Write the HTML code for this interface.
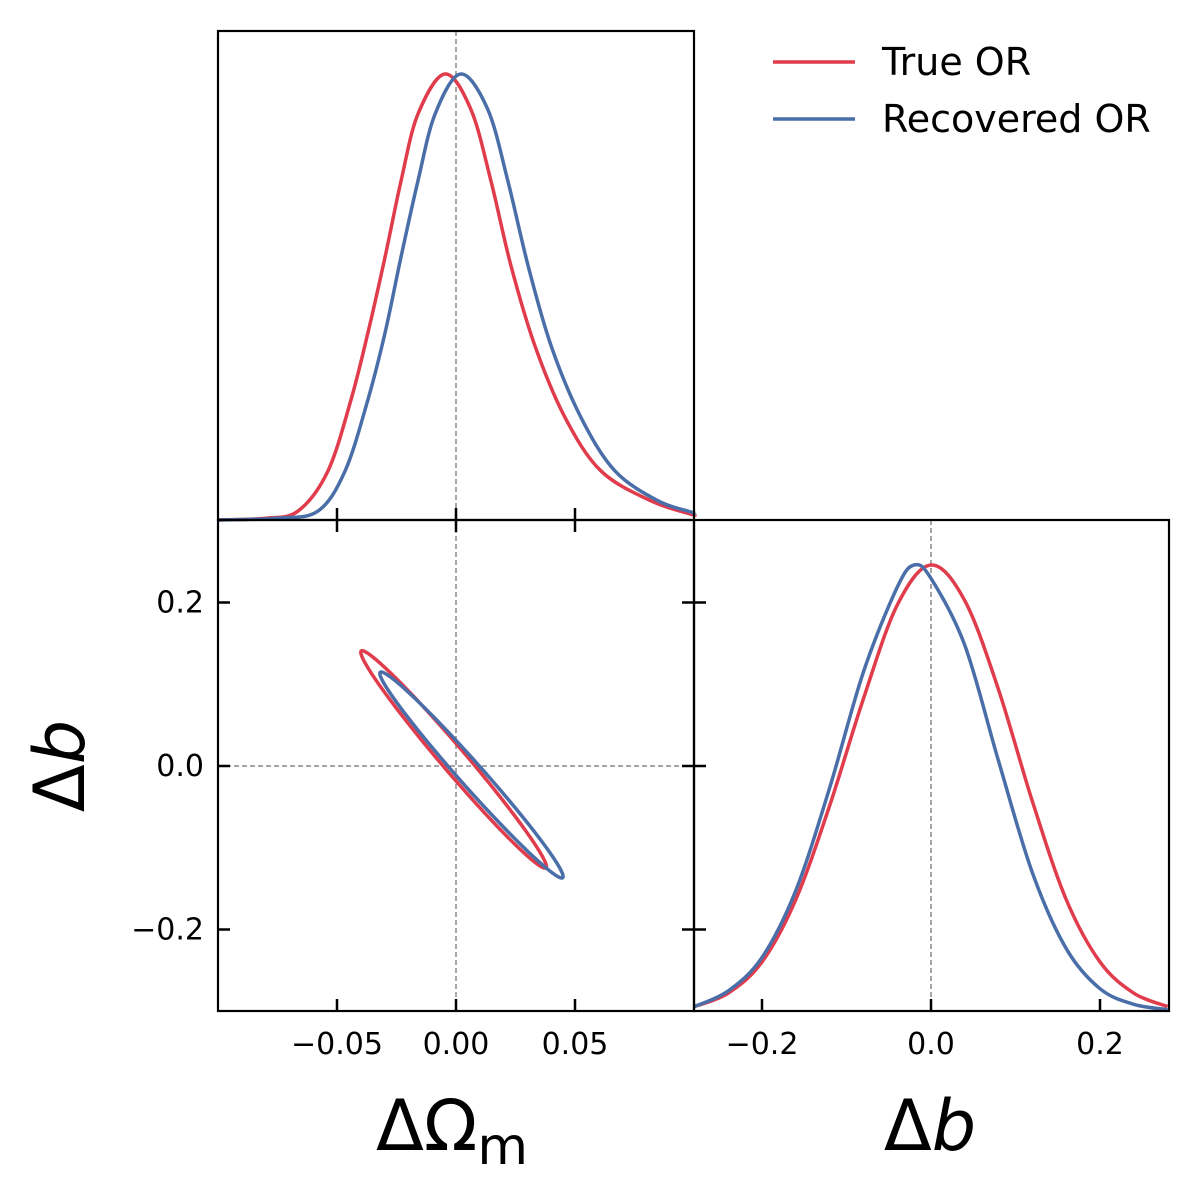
<!DOCTYPE html>
<html><head><meta charset="utf-8"><style>
body{margin:0;background:#fff;}
svg{display:block;font-family:"DejaVu Sans","Liberation Sans",sans-serif;}
</style></head><body>
<svg id="c" width="1200" height="1195"></svg>
<script>
// ---- data ----
const omegaRedX=[-0.1,-0.08,-0.0664,-0.0538,-0.0441,-0.037,-0.0298,-0.0231,-0.016,-0.0046,0.0063,0.0147,0.0231,0.0332,0.0458,0.0609,0.0819,0.0987,0.1];
const omegaRedY=[0,0.004,0.02,0.11,0.27,0.42,0.59,0.76,0.91,1.0,0.92,0.76,0.57,0.39,0.23,0.11,0.043,0.013,0.012];
const omegaBlueX=[-0.1,-0.075,-0.058,-0.0466,-0.037,-0.0298,-0.0231,-0.016,-0.0088,0.002,0.0134,0.0218,0.0303,0.040,0.0525,0.0668,0.0849,0.0987,0.1];
const omegaBlueY=[0,0.004,0.02,0.11,0.27,0.42,0.59,0.76,0.91,1.0,0.92,0.76,0.57,0.39,0.23,0.11,0.043,0.018,0.016];
const bRedX=[-0.28,-0.24,-0.2,-0.16,-0.12,-0.08,-0.04,0,0.04,0.08,0.12,0.16,0.2,0.24,0.28];
const bRedY=[0.01,0.04,0.11,0.25,0.46,0.7,0.91,1.0,0.92,0.72,0.47,0.25,0.11,0.04,0.01];
const bBlueX=[-0.28,-0.24,-0.2,-0.16,-0.12,-0.08,-0.04,-0.02,0,0.04,0.08,0.12,0.16,0.2,0.24,0.28];
const bBlueY=[0.01,0.045,0.12,0.27,0.5,0.76,0.95,1.0,0.97,0.82,0.56,0.31,0.14,0.05,0.015,0.003];
// ellipse: [centerOmega, centerB, halfExtentOmega, halfExtentB, correlation]
const ellipseRed=[-0.001,0.008,0.039,0.133,-0.985];
const ellipseBlue=[0.0065,-0.011,0.0385,0.126,-0.985];
const omegaTicks=[-0.05,0,0.05];
const omegaTickLabels=["\u22120.05","0.00","0.05"];
const bTicks=[-0.2,0,0.2];
const bTickLabels=["\u22120.2","0.0","0.2"];
// ---- axes ----
const RED="#e03c4c",BLUE="#4a6fa8";
const P1={x0:218,x1:694,y0:31,y1:520},P2={x0:218,x1:694,y0:520,y1:1011},P3={x0:694,x1:1169,y0:520,y1:1011};
const sxO=v=>456+v*2380;
const syB=v=>766-v*817.5;
const sxB=v=>931+v*845;
const syD1=v=>520-v*446;
const syD3=v=>1011-v*446;
const svg=document.getElementById('c');
const NS="http://www.w3.org/2000/svg";
function mk(t,a,p){const e=document.createElementNS(NS,t);for(const k in a)e.setAttribute(k,a[k]);(p||svg).appendChild(e);return e;}
function smooth(pts){let d="M"+pts[0][0]+","+pts[0][1];for(let i=0;i<pts.length-1;i++){const p0=pts[Math.max(0,i-1)],p1=pts[i],p2=pts[i+1],p3=pts[Math.min(pts.length-1,i+2)];
d+=" C"+(p1[0]+(p2[0]-p0[0])/6)+","+(p1[1]+(p2[1]-p0[1])/6)+" "+(p2[0]-(p3[0]-p1[0])/6)+","+(p2[1]-(p3[1]-p1[1])/6)+" "+p2[0]+","+p2[1];}return d;}
let e;
e=mk('line',{x1:456,y1:31,x2:456,y2:520,stroke:"#888","stroke-width":1.5,"stroke-dasharray":"5,3"});

e=mk('line',{x1:456,y1:520,x2:456,y2:1011,stroke:"#888","stroke-width":1.5,"stroke-dasharray":"5,3"});

e=mk('line',{x1:218,y1:766,x2:694,y2:766,stroke:"#888","stroke-width":1.5,"stroke-dasharray":"5,3"});

e=mk('line',{x1:931,y1:520,x2:931,y2:1011,stroke:"#888","stroke-width":1.5,"stroke-dasharray":"5,3"});

function curve(xs,ys,sx,sy,col,name){const p=xs.map((x,i)=>[sx(x),sy(ys[i])]);const c=mk('path',{d:smooth(p),fill:"none",stroke:col,"stroke-width":3.5});
}
curve(omegaRedX,omegaRedY,sxO,syD1,RED,'omega-true-curve');
curve(omegaBlueX,omegaBlueY,sxO,syD1,BLUE,'omega-recovered-curve');
curve(bRedX,bRedY,sxB,syD3,RED,'b-true-curve');
curve(bBlueX,bBlueY,sxB,syD3,BLUE,'b-recovered-curve');
function ell(p,col,name){const [cx,cy,ax,ay,r]=p;const s=Math.sqrt(1-r*r);let d="";for(let i=0;i<=200;i++){const t=i/200*2*Math.PI;const x=cx+ax*Math.cos(t),y=cy+ay*(r*Math.cos(t)+s*Math.sin(t));d+=(i?"L":"M")+sxO(x)+","+syB(y);}
const c=mk('path',{d:d+"Z",fill:"none",stroke:col,"stroke-width":3.5});}
ell(ellipseRed,RED,'contour-true');
ell(ellipseBlue,BLUE,'contour-recovered');
[[P1,'panel-omega'],[P2,'panel-2d'],[P3,'panel-b']].forEach(([P,n])=>{const r=mk('rect',{x:P.x0,y:P.y0,width:P.x1-P.x0,height:P.y1-P.y0,fill:"none",stroke:"#000","stroke-width":2.2});
});
omegaTicks.forEach((v,i)=>{const x=sxO(v);
mk('line',{x1:x,y1:508,x2:x,y2:532,stroke:"#000","stroke-width":2.5});
mk('line',{x1:x,y1:1011,x2:x,y2:999,stroke:"#000","stroke-width":2.5});
const t=mk('text',{x:x,y:1054,"font-size":30,"text-anchor":"middle"});t.textContent=omegaTickLabels[i];
});
bTicks.forEach((v,i)=>{const y=syB(v);
mk('line',{x1:218,y1:y,x2:230,y2:y,stroke:"#000","stroke-width":2.5});
mk('line',{x1:682,y1:y,x2:706,y2:y,stroke:"#000","stroke-width":2.5});
const t=mk('text',{x:204,y:y+10,"font-size":30,"text-anchor":"end"});t.textContent=bTickLabels[i];

const x=sxB(v);
mk('line',{x1:x,y1:1011,x2:x,y2:999,stroke:"#000","stroke-width":2.5});
const t2=mk('text',{x:x,y:1054,"font-size":30,"text-anchor":"middle"});t2.textContent=bTickLabels[i];
});
e=mk('text',{x:452,y:1150,"font-size":70,"text-anchor":"middle"});e.innerHTML='ΔΩ<tspan font-size="52" dy="14">m</tspan>';

e=mk('text',{x:930,y:1150,"font-size":70,"text-anchor":"middle"});e.innerHTML='Δ<tspan font-style="italic">b</tspan>';

e=mk('text',{x:0,y:0,"font-size":70,"text-anchor":"middle",transform:"translate(84,766) rotate(-90)"});e.innerHTML='Δ<tspan font-style="italic">b</tspan>';

[["True OR",RED,62,'legend-true'],["Recovered OR",BLUE,119,'legend-recovered']].forEach(([l,c,y,n])=>{
const g=mk('g',{});
mk('line',{x1:773,y1:y,x2:855,y2:y,stroke:c,"stroke-width":3.5},g);
const t=mk('text',{x:882,y:y+13,"font-size":38,"textLength":0},g);t.removeAttribute('textLength');t.textContent=l;});
</script>
</body></html>
